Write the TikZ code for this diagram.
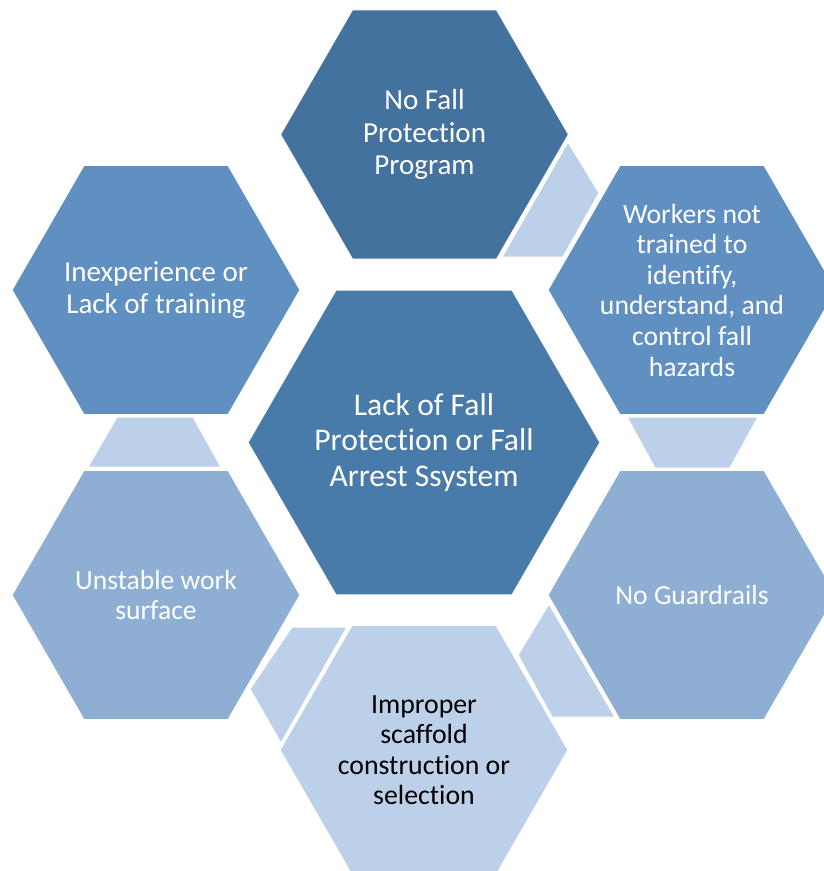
\documentclass[tikz,border=0pt]{standalone}
\usepackage{fontspec}
\setmainfont{Carlito}[Ligatures={NoCommon,NoContextual}]
\usetikzlibrary{calc}
\definecolor{hexTop}{HTML}{44729E}
\definecolor{hexCenter}{HTML}{487AAA}
\definecolor{hexMid}{HTML}{608FC1}
\definecolor{hexLow}{HTML}{8EAED4}
\definecolor{hexLight}{HTML}{BDD0E9}
\newcommand{\hexshape}[3]{%
  \filldraw[fill=#3,draw=white,line width=1] (#1) ++(0:#2) -- ++(120:#2) -- ++(180:#2) -- ++(240:#2) -- ++(300:#2) -- ++(0:#2) -- cycle;}
\tikzset{
  hextext/.style={align=center,inner sep=0pt,text=white},
  darktext/.style={align=center,inner sep=0pt,text=black},
  linkshape/.style={fill=hexLight,draw=white,line width=1}
}
\begin{document}
\begin{tikzpicture}[x=1pt,y=-1pt]
\useasboundingbox (0,0) rectangle (823,871);
% centres
\coordinate (cT) at (424.5,134.5);
\coordinate (cUR) at (692,290);
\coordinate (cUL) at (156,290);
\coordinate (cC) at (424,442.5);
\coordinate (cLR) at (692,595);
\coordinate (cLL) at (156,595);
\coordinate (cB) at (424,750);
% hexagons
\hexshape{cT}{144}{hexTop}
\hexshape{cUR}{144}{hexMid}
\hexshape{cUL}{144}{hexMid}
\hexshape{cC}{176}{hexCenter}
\hexshape{cLR}{144}{hexLow}
\hexshape{cLL}{144}{hexLow}
\hexshape{cB}{144}{hexLight}
% link shapes
\filldraw[linkshape] (568,142) -- (599,193) -- (563,257) -- (502,257) -- cycle;
\filldraw[linkshape] (627,417) -- (758,417) -- (730,468) -- (655,468) -- cycle;
\filldraw[linkshape] (549,604) -- (518,655) -- (552,717) -- (615,717) -- cycle;
\filldraw[linkshape] (292,627) -- (347,627) -- (281,743) -- (250,689) -- cycle;
\filldraw[linkshape] (117,417) -- (193,417) -- (221,467) -- (88,467) -- cycle;
% texts
\node[hextext,font=\fontsize{29}{32.5}\selectfont] (t) at (cT) {No Fall\\Protection\\Program};
\node[hextext,font=\fontsize{27.7}{30.6}\selectfont] (ur) at (cUR) {Workers not\\trained to\\identify,\\understand, and\\control fall\\hazards};
\node[hextext,font=\fontsize{29}{31.5}\selectfont] (ul) at (cUL) {Inexperience or\\Lack of training};
\node[hextext,font=\fontsize{31.6}{35.5}\selectfont] (c) at (cC) {Lack of Fall\\Protection or Fall\\Arrest Ssystem};
\node[hextext,font=\fontsize{27.6}{30}\selectfont] (lr) at (cLR) {No Guardrails};
\node[hextext,font=\fontsize{27.6}{30}\selectfont] (ll) at (cLL) {Unstable work\\surface};
\node[darktext,font=\fontsize{27.8}{30.5}\selectfont] (b) at (cB) {Improper\\scaffold\\construction or\\selection};
\end{tikzpicture}
\end{document}
